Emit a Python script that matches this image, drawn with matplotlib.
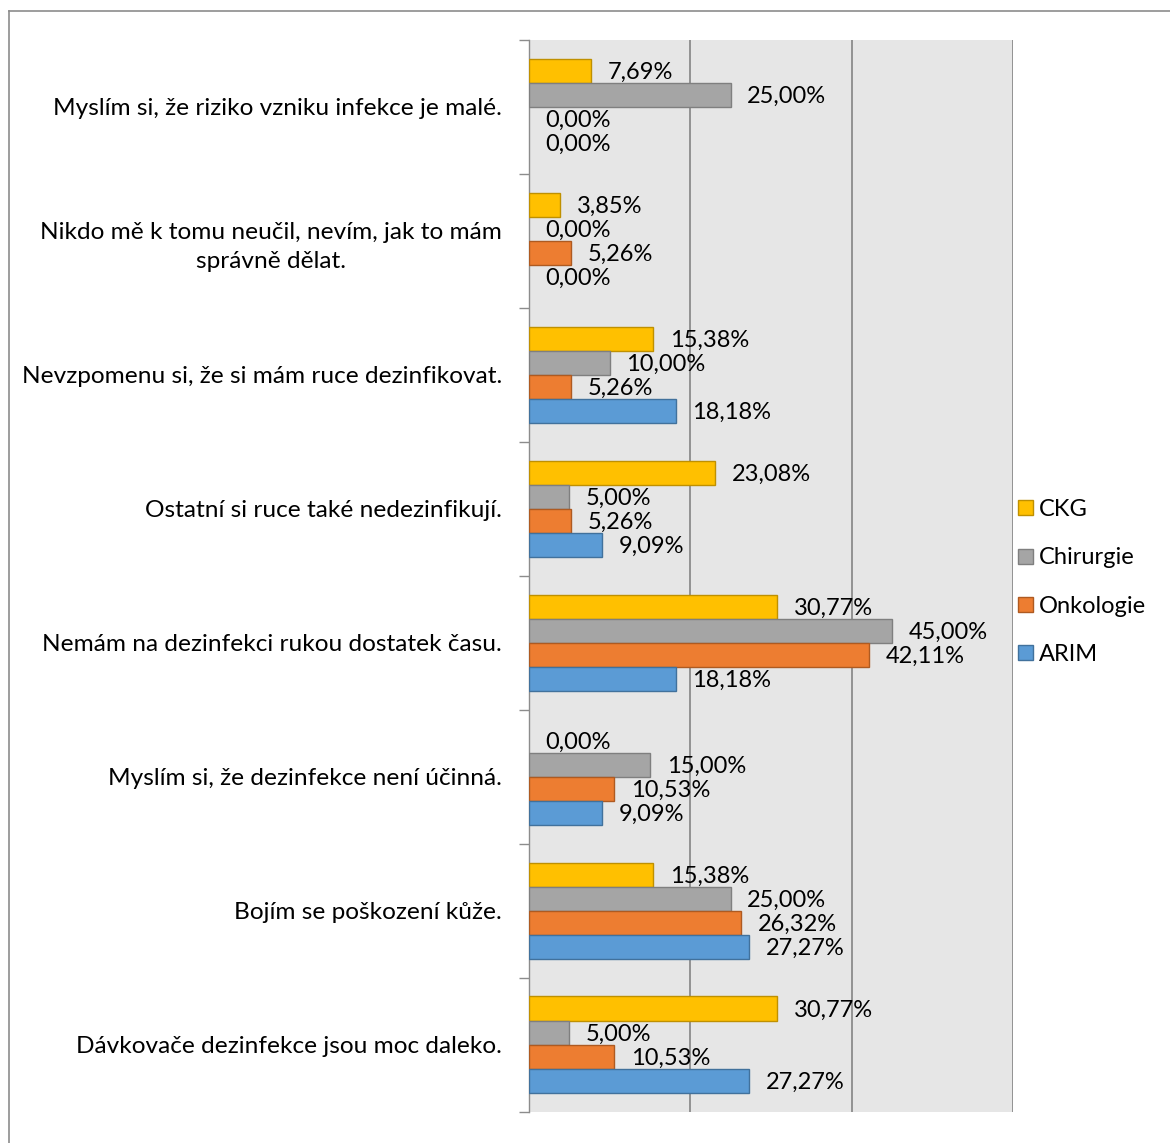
import numpy as np
import matplotlib.pyplot as plt
from matplotlib.lines import Line2D
from matplotlib.patches import Patch

plt.rcParams['font.family'] = ['Lato', 'DejaVu Sans']

# ── Data ──
categories = [
    "Myslím si, že riziko vzniku infekce je malé.",
    "Nikdo mě k tomu neučil, nevím, jak to mám\nsprávně dělat.",
    "Nevzpomenu si, že si mám ruce dezinfikovat.",
    "Ostatní si ruce také nedezinfikují.",
    "Nemám na dezinfekci rukou dostatek času.",
    "Myslím si, že dezinfekce není účinná.",
    "Bojím se poškození kůže.",
    "Dávkovače dezinfekce jsou moc daleko.",
]
series_names = ["CKG", "Chirurgie", "Onkologie", "ARIM"]
ckg       = [7.69, 3.85, 15.38, 23.08, 30.77, 0.00, 15.38, 30.77]
chirurgie = [25.00, 0.00, 10.00, 5.00, 45.00, 15.00, 25.00, 5.00]
onkologie = [0.00, 5.26, 5.26, 5.26, 42.11, 10.53, 26.32, 10.53]
arim      = [0.00, 0.00, 18.18, 9.09, 18.18, 9.09, 27.27, 27.27]

colors = ["#FFC000", "#A5A5A5", "#ED7D31", "#5B9BD5"]
edges  = ["#BF9000", "#7F7F7F", "#AE5A21", "#41719C"]

# ── Figure ──
fig = plt.figure(figsize=(11.7, 11.43), dpi=100)
ax = fig.add_axes([529/1170, 1 - 1111.7/1143, (1013-529)/1170, 1071.7/1143])
ax.set_facecolor("#E6E6E6")

n = len(categories)
ypos = np.arange(n)
bar_h = 0.18
series = [ckg, chirurgie, onkologie, arim]
for k, vals in enumerate(series):
    offs = (k - 1.5) * bar_h
    lw = [1.0 if v > 0 else 0 for v in vals]
    ax.barh(ypos + offs, vals, height=bar_h, color=colors[k], edgecolor=edges[k],
            linewidth=lw, label=series_names[k], zorder=3)
    for y, v in zip(ypos + offs, vals):
        ax.annotate(f"{v:.2f}%".replace(".", ","), (v, y), xytext=(12, -1),
                    textcoords="offset points", va="center", ha="left",
                    fontsize=17, color="#000000", zorder=4)

ax.set_xlim(0, 60)
ax.set_ylim(n - 0.5, -0.5)
ax.set_xticks([20, 40, 60])
ax.xaxis.grid(True, color="#8C8C8C", linewidth=1.3, zorder=1)
ax.tick_params(axis="x", length=0, labelbottom=False)

ax.set_yticks(ypos)
ax.set_yticklabels(categories, fontsize=17.6, multialignment="center", linespacing=1.45)
ax.set_yticks(np.arange(n + 1) - 0.5, minor=True)
ax.tick_params(axis="y", which="major", length=0, pad=19.5)
ax.tick_params(axis="y", which="minor", length=7, color="#8C8C8C", width=1)

for s in ["top", "bottom", "right"]:
    ax.spines[s].set_visible(False)
ax.spines["left"].set_color("#8C8C8C")
ax.spines["left"].set_linewidth(1.0)

handles = [Patch(facecolor=colors[k], edgecolor=edges[k], label=series_names[k])
           for k in range(4)]
fig.legend(handles=handles, loc="center left", bbox_to_anchor=(1009/1170, 1 - 582/1143),
           frameon=False, fontsize=17, handlelength=0.6, handleheight=0.6,
           handletextpad=0.25, labelspacing=1.15, borderaxespad=0)

# outer chart frame (top and left edges only visible)
fig.add_artist(Line2D([9/1170, 1], [1 - 11/1143, 1 - 11/1143], color="#8C8C8C",
                      linewidth=1.2, transform=fig.transFigure))
fig.add_artist(Line2D([9/1170, 9/1170], [0, 1 - 11/1143], color="#8C8C8C",
                      linewidth=1.2, transform=fig.transFigure))

fig.savefig("out.png", dpi=100)
